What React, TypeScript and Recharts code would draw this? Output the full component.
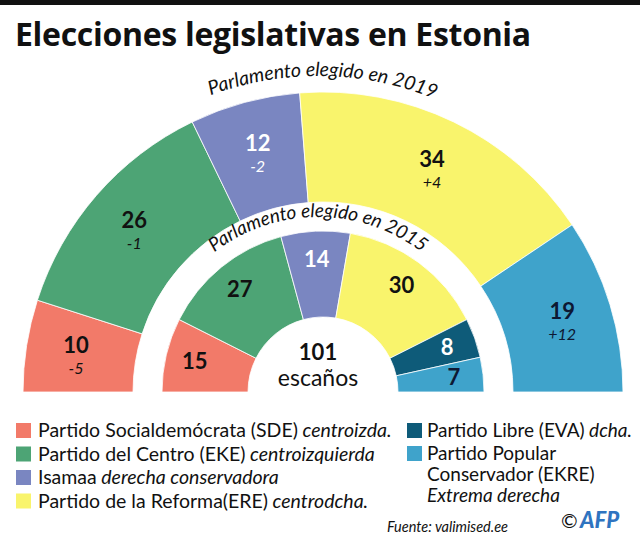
import React from "react";
import { PieChart, Pie, Cell } from "recharts";

// ---- data ----
const parties2019 = ["SDE", "EKE", "Isamaa", "ERE", "EKRE"];
const seats2019 = [10, 26, 12, 34, 19];
const change2019 = ["-5", "-1", "-2", "+4", "+12"];

const parties2015 = ["SDE", "EKE", "Isamaa", "ERE", "EVA", "EKRE"];
const seats2015 = [15, 27, 14, 30, 8, 7];

const totalSeats = 101;

const legendLeft = [
  { code: "SDE", name: "Partido Socialdemócrata (SDE)", note: " centroizda." },
  { code: "EKE", name: "Partido del Centro (EKE)", note: " centroizquierda" },
  { code: "Isamaa", name: "Isamaa", note: " derecha conservadora" },
  { code: "ERE", name: "Partido de la Reforma(ERE)", note: " centrodcha." },
];
const legendRight = [
  { code: "EVA", lines: ["Partido Libre (EVA)"], note: " dcha." },
  { code: "EKRE", lines: ["Partido Popular", "Conservador (EKRE)"], note: "Extrema derecha" },
];

// ---- styles ----
const partyColor: Record<string, string> = {
  SDE: "#F27A69",
  EKE: "#4DA475",
  Isamaa: "#7A86C1",
  ERE: "#F9F46C",
  EVA: "#0E5B79",
  EKRE: "#3FA3CB",
};
const labelColor: Record<string, string> = {
  SDE: "#111",
  EKE: "#111",
  Isamaa: "#fff",
  ERE: "#111",
  EVA: "#fff",
  EKRE: "#0d1833",
};

const FONT = "Lato, 'Open Sans', sans-serif";
const TITLE_FONT = "'Open Sans', Lato, sans-serif";
const CX = 318;
const CY = 387;
const RAD = Math.PI / 180;

const data2019 = parties2019.map((p, i) => ({ name: p, value: seats2019[i], change: change2019[i] }));
const data2015 = parties2015.map((p, i) => ({ name: p, value: seats2015[i] }));

const outerLabel = (props: any) => {
  const { cx, cy, midAngle, innerRadius, outerRadius, index } = props;
  const r = (innerRadius + outerRadius) / 2 + 5;
  const x = cx + r * Math.cos(-midAngle * RAD);
  const y = cy + r * Math.sin(-midAngle * RAD);
  const col = labelColor[parties2019[index]];
  return (
    <g key={"ol" + index}>
      <text x={x} y={y} textAnchor="middle" fill={col} fontFamily={FONT} fontWeight={700} fontSize={22}>
        {seats2019[index]}
      </text>
      <text x={x} y={y + 21} textAnchor="middle" fill={col} fontFamily={FONT} fontStyle="italic" fontSize={16}>
        {change2019[index]}
      </text>
    </g>
  );
};

const innerLabel = (props: any) => {
  const { cx, cy, midAngle, innerRadius, outerRadius, index } = props;
  const r = innerRadius + (outerRadius - innerRadius) * 0.66;
  const x = cx + r * Math.cos(-midAngle * RAD);
  const y = cy + r * Math.sin(-midAngle * RAD);
  const col = labelColor[parties2015[index]];
  return (
    <text key={"il" + index} x={x} y={y + 7} textAnchor="middle" fill={col} fontFamily={FONT} fontWeight={700} fontSize={22}>
      {seats2015[index]}
    </text>
  );
};

const arcPath = (r: number) => `M ${CX - r} ${CY} A ${r} ${r} 0 0 1 ${CX + r} ${CY}`;

export default function App() {
  return (
    <div style={{ position: "absolute", left: 0, top: 0, width: 640, height: 542, background: "#fff", overflow: "hidden" }}>
      <div style={{ position: "absolute", left: 0, top: 0 }}>
        <PieChart width={640} height={542}>
          <Pie
            data={data2019}
            dataKey="value"
            nameKey="name"
            cx={CX}
            cy={CY}
            startAngle={180}
            endAngle={0}
            innerRadius={190}
            outerRadius={300}
            stroke="#fff"
            strokeWidth={0.8}
            label={outerLabel}
            labelLine={false}
            isAnimationActive={false}
          >
            {data2019.map((d) => (
              <Cell key={d.name} fill={partyColor[d.name]} />
            ))}
          </Pie>
          <Pie
            data={data2015}
            dataKey="value"
            nameKey="name"
            cx={CX}
            cy={CY}
            startAngle={180}
            endAngle={0}
            innerRadius={75}
            outerRadius={161}
            stroke="#fff"
            strokeWidth={0.8}
            label={innerLabel}
            labelLine={false}
            isAnimationActive={false}
          >
            {data2015.map((d) => (
              <Cell key={d.name} fill={partyColor[d.name]} />
            ))}
          </Pie>
        </PieChart>
      </div>
      <svg width={640} height={542} style={{ position: "absolute", left: 0, top: 0, pointerEvents: "none" }}>
        <defs>
          <path id="arc2019" d={arcPath(311)} />
          <path id="arc2015" d={arcPath(170)} />
        </defs>
        <rect x={0} y={0} width={640} height={5} fill="#111" />
        <text x={15} y={46} fontFamily={TITLE_FONT} fontWeight={700} fontSize={32} letterSpacing={-0.3} fill="#111">
          Elecciones legislativas en Estonia
        </text>
        <text fontFamily={FONT} fontStyle="italic" fontSize={19.5} fill="#111">
          <textPath href="#arc2019" startOffset="50.5%" textAnchor="middle">
            Parlamento elegido en 2019
          </textPath>
        </text>
        <text fontFamily={FONT} fontStyle="italic" fontSize={19} fill="#111">
          <textPath href="#arc2015" startOffset="50%" textAnchor="middle">
            Parlamento elegido en 2015
          </textPath>
        </text>
        <text x={CX} y={360} textAnchor="middle" fontFamily={FONT} fontWeight={700} fontSize={22} fill="#111">
          {totalSeats}
        </text>
        <text x={CX} y={386} textAnchor="middle" fontFamily={FONT} fontSize={23} fill="#111">
          escaños
        </text>
        {legendLeft.map((e, i) => (
          <g key={e.code}>
            <rect x={16} y={423 + i * 23.5} width={15} height={15} fill={partyColor[e.code]} />
            <text x={38} y={437 + i * 23.5} fontFamily={FONT} fontSize={19.5} fill="#111">
              {e.name}
              <tspan fontStyle="italic">{e.note}</tspan>
            </text>
          </g>
        ))}
        <rect x={407} y={423} width={15} height={15} fill={partyColor.EVA} />
        <text x={427} y={437} fontFamily={FONT} fontSize={19} fill="#111">
          {legendRight[0].lines[0]}
          <tspan fontStyle="italic">{legendRight[0].note}</tspan>
        </text>
        <rect x={407} y={446} width={15} height={15} fill={partyColor.EKRE} />
        <text fontFamily={FONT} fontSize={19} fill="#111">
          <tspan x={427} y={460}>{legendRight[1].lines[0]}</tspan>
          <tspan x={427} y={481}>{legendRight[1].lines[1]}</tspan>
          <tspan x={427} y={502} fontStyle="italic">{legendRight[1].note}</tspan>
        </text>
        <text x={387} y={532} fontFamily={FONT} fontStyle="italic" fontSize={14.5} fill="#111">
          Fuente: valimised.ee
        </text>
        <text x={561} y={528} fontFamily={FONT} fontSize={20} fill="#111">©</text>
        <text x={580} y={528} fontFamily={FONT} fontWeight={900} fontStyle="italic" fontSize={22} fill="#2F74C0">
          AFP
        </text>
      </svg>
    </div>
  );
}
